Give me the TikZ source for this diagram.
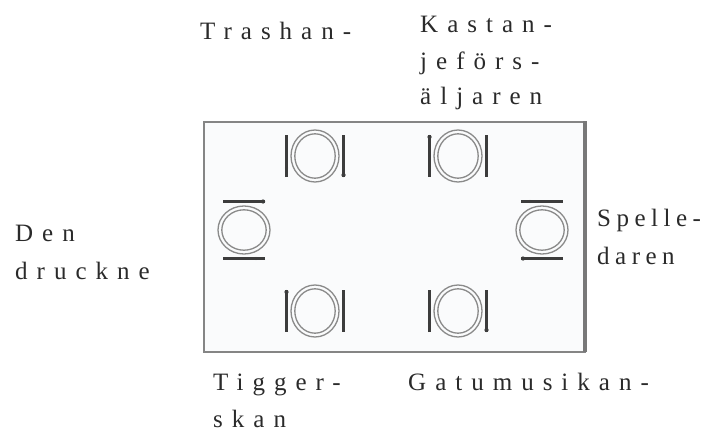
\documentclass[tikz,border=0pt]{standalone}
\usepackage{fontspec}
\newfontfamily\lblfont[LetterSpace=36]{Liberation Serif}
\newfontfamily\lblfontnarrow[LetterSpace=22]{Liberation Serif}
\definecolor{ringgray}{HTML}{8A8A8A}
\definecolor{bargray}{HTML}{3C3C3C}
\definecolor{edgegray}{HTML}{858585}
\definecolor{tablefill}{HTML}{FAFBFC}
\definecolor{txt}{HTML}{2A2A2A}
\tikzset{
  lbl/.style={anchor=base west, inner sep=0pt, text=txt, font={\lblfont\fontsize{25}{30}\selectfont}},
  lblnarrow/.style={lbl, font={\lblfontnarrow\fontsize{25}{30}\selectfont}},
  ring/.style={draw=ringgray, line width=1.3pt},
  cutlery/.style={draw=bargray, line width=2.8pt},
  setting/.pic={
    \draw[ring] (0,0) ellipse [x radius=24, y radius=26];
    \draw[ring] (0,0) ellipse [x radius=20.2, y radius=22.2];
    \draw[cutlery] (-28.5,-21) -- (-28.5,21);
    \draw[cutlery] (28.5,-21) -- (28.5,21);
    \fill[bargray] (28.5,-19) circle [radius=2.1];
    \fill[bargray] (-28.5,-12) circle [radius=1.7];
  }
}
\begin{document}
\begin{tikzpicture}[x=1pt,y=1pt]
\useasboundingbox (0,0) rectangle (722,432);
% table
\coordinate (tsw) at (204,80);
\coordinate (tne) at (585,310);
\fill[tablefill] (tsw) rectangle (tne);
\draw[edgegray, line width=1.5pt] (tsw) rectangle (tne);
\draw[edgegray!90!black, line width=4pt] (585,80) -- (585,310.75);
% place settings
\coordinate (stl) at (315,276);
\coordinate (str) at (458,276);
\coordinate (sbl) at (315,121);
\coordinate (sbr) at (458,121);
\coordinate (sl) at (244,202);
\coordinate (sr) at (542,202);
\pic at (stl) {setting};
\pic[rotate=180] at (str) {setting};
\pic[rotate=180] at (sbl) {setting};
\pic at (sbr) {setting};
\pic[rotate=90] at (sl) {setting};
\pic[rotate=-90] at (sr) {setting};
% labels
\node[lbl] (trash) at (200,392) {Trashan-};
\node[lbl] (kast1) at (420,399) {Kastan-};
\node[lbl] (kast2) at (420,362) {jeförs-};
\node[lbl] (kast3) at (420,327) {äljaren};
\node[lbl] (den1) at (15,191) {Den};
\node[lbl] (den2) at (15,153) {druckne};
\node[lblnarrow] (spel1) at (597,206) {Spelle-};
\node[lblnarrow] (spel2) at (597,168) {daren};
\node[lbl] (tig1) at (213,42) {Tigger-};
\node[lbl] (tig2) at (213,5) {skan};
\node[lbl] (gatu) at (408,42) {Gatumusikan-};
\end{tikzpicture}
\end{document}
